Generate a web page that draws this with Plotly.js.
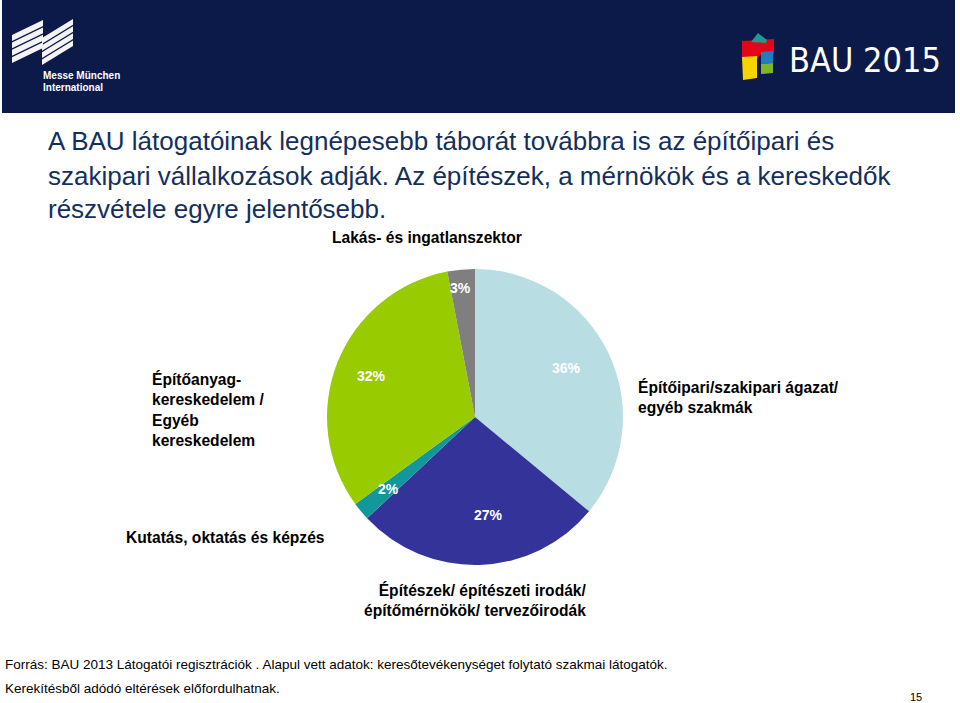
<!DOCTYPE html>
<html>
<head>
<meta charset="utf-8">
<script src="https://cdn.plot.ly/plotly-3.0.1.min.js"></script>
<style>html,body{margin:0;padding:0;background:#fff;}#chart{width:960px;height:703px;}</style>
</head>
<body>
<div id="chart"></div>
<script>
// ---- data ----
const categories = [
  "Építőipari/szakipari ágazat/ egyéb szakmák",
  "Építészek/ építészeti irodák/ építőmérnökök/ tervezőirodák",
  "Kutatás, oktatás és képzés",
  "Építőanyag-kereskedelem / Egyéb kereskedelem",
  "Lakás- és ingatlanszektor"
];
const shares = [36, 27, 2, 32, 3];
const sliceColors = ["#b8dde3", "#333399", "#12989a", "#99cc00", "#7f7f7f"];
const titleLines = [
  "A BAU látogatóinak legnépesebb táborát továbbra is az építőipari és",
  "szakipari vállalkozások adják. Az építészek, a mérnökök és a kereskedők",
  "részvétele egyre jelentősebb."
];
const footLines = [
  "Forrás: BAU 2013 Látogatói regisztrációk . Alapul vett adatok: keresőtevékenységet folytató szakmai látogatók.",
  "Kerekítésből adódó eltérések előfordulhatnak."
];
const pageNumber = "15";

// ---- geometry helpers ----
const W = 960, H = 703;
const fx = x => x / W;
const fy = y => 1 - y / H;
const cx = 475, cy = 417, R = 148;

const pie = {
  type: "pie",
  values: shares,
  labels: categories,
  sort: false,
  direction: "clockwise",
  rotation: 0,
  marker: { colors: sliceColors, line: { width: 0 } },
  textinfo: "none",
  hoverinfo: "label+percent",
  domain: { x: [fx(cx - R), fx(cx + R)], y: [fy(cy + R), fy(cy - R)] },
  showlegend: false
};

const ann = [];
// percent labels placed along each slice's mid-angle
const radialPos = [0.70, 0.67, 0.76, 0.75, 0.88];
const angleNudge = [-3, -6, 0, 0, -1];
const total = shares.reduce((a, b) => a + b, 0);
let cum = 0;
shares.forEach((v, i) => {
  const mid = (cum + v / 2) / total * 2 * Math.PI + angleNudge[i] * Math.PI / 180;
  cum += v;
  const r = R * radialPos[i];
  ann.push({
    x: fx(cx + r * Math.sin(mid)), y: fy(cy - r * Math.cos(mid)),
    xanchor: "center", yanchor: "middle",
    text: "<b>" + Math.round(v / total * 100) + "%</b>",
    font: { family: "Arial, Liberation Sans, sans-serif", size: 14, color: "#ffffff" }
  });
});

// category labels
const catFont = { family: "Arial, Liberation Sans, sans-serif", size: 15.6, color: "#000000" };
ann.push({ x: fx(636), y: fy(396.5), xanchor: "left", yanchor: "middle", align: "left",
  text: "<b>Építőipari/szakipari ágazat/<br>egyéb szakmák</b>", font: catFont });
ann.push({ x: fx(588), y: fy(599.5), xanchor: "right", yanchor: "middle", align: "right",
  text: "<b>Építészek/ építészeti irodák/<br>építőmérnökök/ tervezőirodák</b>", font: catFont });
ann.push({ x: fx(124), y: fy(537), xanchor: "left", yanchor: "middle", align: "left",
  text: "<b>Kutatás, oktatás és képzés</b>", font: catFont });
ann.push({ x: fx(150), y: fy(409), xanchor: "left", yanchor: "middle", align: "left",
  text: "<b>Építőanyag-<br>kereskedelem /<br>Egyéb<br>kereskedelem</b>", font: catFont });
ann.push({ x: fx(427), y: fy(237), xanchor: "center", yanchor: "middle",
  text: "Lakás- és ingatlanszektor",
  font: { family: "Arial, Liberation Sans, sans-serif", size: 15.6, color: "#000000", weight: 600 } });

// headline
const titleY = [141, 176, 209];
titleLines.forEach((t, i) => ann.push({
  x: fx(46), y: fy(titleY[i]), xanchor: "left", yanchor: "middle", align: "left", text: t,
  font: { family: "Arial, Liberation Sans, sans-serif", size: 26, color: "#142f5c" }
}));

// footer
const footY = [664, 688];
footLines.forEach((t, i) => ann.push({
  x: fx(3), y: fy(footY[i]), xanchor: "left", yanchor: "middle", align: "left", text: t,
  font: { family: "Arial, Liberation Sans, sans-serif", size: 13.5, color: "#000000" }
}));
ann.push({ x: fx(916), y: fy(697), xanchor: "center", yanchor: "middle", text: pageNumber,
  font: { family: "Arial, sans-serif", size: 11, color: "#000000" } });

// header logos text
ann.push({ x: fx(41), y: fy(75), xanchor: "left", yanchor: "middle", text: "<b>Messe München</b>",
  font: { family: "Arial, sans-serif", size: 10, color: "#ffffff" } });
ann.push({ x: fx(41), y: fy(87), xanchor: "left", yanchor: "middle", text: "<b>International</b>",
  font: { family: "Arial, sans-serif", size: 10, color: "#ffffff" } });
ann.push({ x: fx(787), y: fy(60), xanchor: "left", yanchor: "middle", text: "BAU 2015",
  font: { family: "DejaVu Sans Condensed, Arial, sans-serif", size: 34, color: "#ffffff", stretch: "condensed" } });

ann.forEach(a => { a.xref = "paper"; a.yref = "paper"; a.showarrow = false; });

// decorative header shapes
function path(pts) {
  return "M" + pts.map(p => fx(p[0]) + "," + fy(p[1])).join(" L") + " Z";
}
const shapes = [];
shapes.push({ type: "rect", xref: "paper", yref: "paper", x0: fx(2), x1: fx(955), y0: fy(113), y1: fy(0),
  fillcolor: "#0c1a4a", line: { width: 0 }, layer: "below" });
function stripes(xl, xr, yl, yr, h) {
  const n = 4, gap = 1.5, t = (h - gap * (n - 1)) / n;
  for (let j = 0; j < n; j++) {
    const o = j * (t + gap);
    shapes.push({ type: "path", xref: "paper", yref: "paper", fillcolor: "#f4f4f4", line: { width: 0 },
      path: path([[xl, yl + o], [xr, yr + o], [xr, yr + o + t], [xl, yl + o + t]]) });
  }
}
stripes(12, 43, 35, 20, 28);
stripes(42, 73, 38, 19, 27);
// BAU blocks
const blk = (pts, c) => shapes.push({ type: "path", xref: "paper", yref: "paper", fillcolor: c, line: { width: 0 }, path: path(pts) });
blk([[742, 41], [774, 39], [774, 54], [760, 55], [757, 60], [742, 60]], "#e3061b");
blk([[751, 42], [758, 33], [767, 40], [766, 43]], "#1d9b8c");
blk([[761, 52], [773, 51], [773, 63], [761, 64]], "#1f7dc4");
blk([[761, 64], [773, 63], [773, 73], [761, 74]], "#7cb72b");
blk([[742, 57], [757, 56], [757, 78], [743, 80]], "#f6d400");

const layout = {
  width: W, height: H,
  margin: { l: 0, r: 0, t: 0, b: 0 },
  paper_bgcolor: "#ffffff",
  annotations: ann,
  shapes: shapes,
  showlegend: false
};
Plotly.newPlot("chart", [pie], layout, { displayModeBar: false, staticPlot: true });
</script>
</body>
</html>
